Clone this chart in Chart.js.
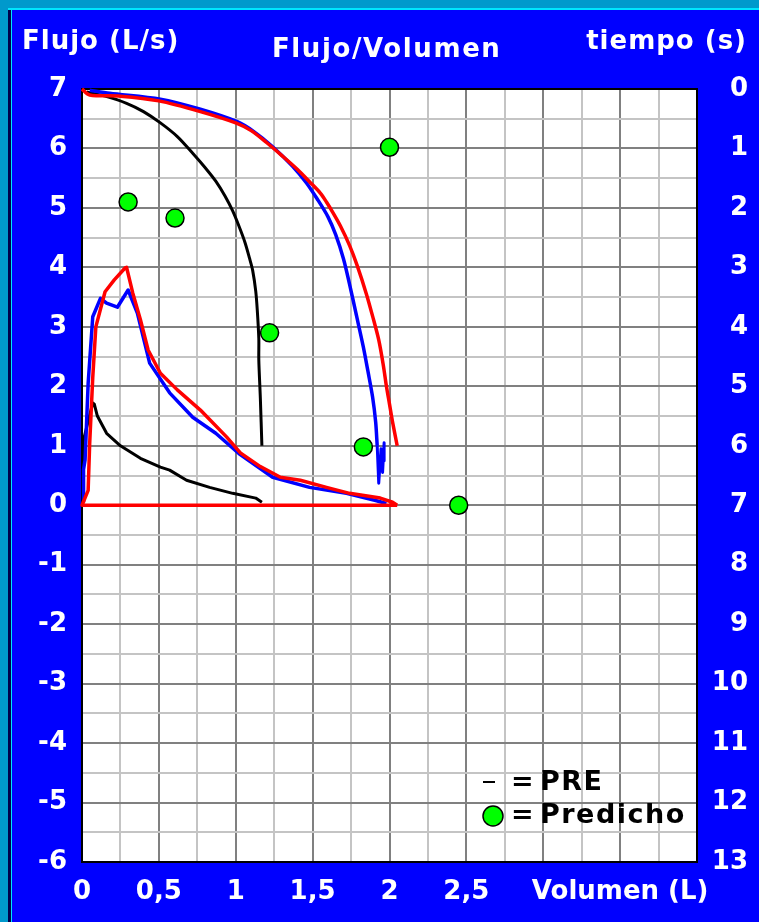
<!DOCTYPE html>
<html>
<head>
<meta charset="utf-8">
<script src="https://cdn.jsdelivr.net/npm/chart.js@4.4.0/dist/chart.umd.min.js"></script>
<style>
  html, body { margin: 0; padding: 0; background: #0099cc; overflow: hidden; }
  #wrap { width: 759px; height: 922px; position: relative; }
</style>
</head>
<body>
<div id="wrap"><canvas id="fv"></canvas></div>
<script>
// valores: volumen (L) y flujo (L/s)
var redExpVol  = [0, 0.05, 0.25, 0.5, 0.77, 1.0, 1.1, 1.2, 1.3, 1.4, 1.48, 1.55, 1.59, 1.63, 1.68, 1.74, 1.79, 1.85, 1.89, 1.93, 1.96, 1.98, 2.0, 2.02, 2.05];
var redExpFlow = [7.0, 6.9, 6.88, 6.8, 6.62, 6.43, 6.3, 6.1, 5.88, 5.65, 5.44, 5.25, 5.1, 4.93, 4.7, 4.37, 4.03, 3.55, 3.18, 2.78, 2.35, 2.0, 1.7, 1.4, 1.0];

var redInspVol  = [2.05, 0, 0.04, 0.05, 0.07, 0.09, 0.15, 0.21, 0.28, 0.29, 0.33, 0.38, 0.43, 0.51, 0.62, 0.77, 0.94, 1.03, 1.16, 1.29, 1.42, 1.59, 1.74, 1.94, 2.02, 2.05];
var redInspFlow = [0, 0, 0.25, 1.04, 2.15, 3.0, 3.59, 3.79, 3.99, 4.0, 3.57, 3.12, 2.61, 2.22, 1.94, 1.6, 1.15, 0.88, 0.65, 0.47, 0.42, 0.3, 0.2, 0.12, 0.05, 0];

var blueExpVol  = [0.05, 0.18, 0.51, 0.77, 1.01, 1.12, 1.24, 1.37, 1.46, 1.53, 1.6, 1.65, 1.7, 1.74, 1.78, 1.83, 1.86, 1.89, 1.91, 1.92];
var blueExpFlow = [6.98, 6.93, 6.83, 6.66, 6.45, 6.28, 6.03, 5.7, 5.42, 5.15, 4.85, 4.55, 4.15, 3.72, 3.25, 2.66, 2.25, 1.82, 1.4, 1.0];
var blueEndVol  = [1.92, 1.93, 1.945, 1.955, 1.965, 1.965];
var blueEndFlow = [1.0, 0.37, 0.95, 0.55, 1.05, 0.75];

var blueInspVol  = [0.01, 0.01, 0.02, 0.04, 0.07, 0.12, 0.16, 0.23, 0.3, 0.36, 0.44, 0.57, 0.72, 0.87, 1.02, 1.24, 1.48, 1.72, 1.91, 1.98];
var blueInspFlow = [0.05, 0.6, 0.76, 2.05, 3.17, 3.48, 3.4, 3.33, 3.62, 3.23, 2.39, 1.89, 1.48, 1.21, 0.87, 0.47, 0.3, 0.2, 0.08, 0.03];

var preExpVol  = [0.03, 0.15, 0.29, 0.4, 0.51, 0.62, 0.72, 0.8, 0.87, 0.93, 0.98, 1.02, 1.06, 1.09, 1.11, 1.13, 1.14, 1.15, 1.15, 1.16, 1.17];
var preExpFlow = [6.95, 6.88, 6.76, 6.62, 6.43, 6.2, 5.92, 5.68, 5.45, 5.2, 4.95, 4.7, 4.42, 4.15, 3.95, 3.6, 3.28, 2.8, 2.44, 1.8, 1.0];

var preInspVol  = [0.005, 0.005, 0.07, 0.08, 0.1, 0.16, 0.25, 0.38, 0.51, 0.57, 0.68, 0.83, 0.98, 1.13, 1.17];
var preInspFlow = [0.45, 1.05, 1.72, 1.7, 1.5, 1.21, 1.0, 0.79, 0.64, 0.59, 0.42, 0.3, 0.2, 0.12, 0.05];

var predVol  = [0.3, 0.605, 2.0, 1.22, 1.83, 2.45];
var predFlow = [5.1, 4.83, 6.02, 2.9, 0.98, 0.0];

// ejes
var xTickValues = [0, 0.5, 1, 1.5, 2, 2.5, 3.5];
var xTickLabels = ['0', '0,5', '1', '1,5', '2', '2,5', 'Volumen (L)'];
var flowTicks = [7, 6, 5, 4, 3, 2, 1, 0, -1, -2, -3, -4, -5, -6];
var timeTicks = [0, 1, 2, 3, 4, 5, 6, 7, 8, 9, 10, 11, 12, 13];

function pts(xs, ys) {
    return xs.map((x, i) => ({x: x, y: ys[i]}));
}

var FONT = '"DejaVu Sans", sans-serif';

var framePlugin = {
    id: 'frame',
    beforeDraw(chart) {
        var c = chart.ctx, a = chart.chartArea, w = chart.width, h = chart.height;
        c.save();
        c.fillStyle = '#0099cc';
        c.fillRect(0, 0, w, h);
        c.fillStyle = '#00004a';
        c.fillRect(8, 8, 3, h);
        c.fillStyle = '#00e5ff';
        c.fillRect(8, 8, w, 2);
        c.fillRect(11, 10, 1, h);
        c.fillStyle = '#0000ff';
        c.fillRect(12, 10, w, h);
        c.fillStyle = '#ffffff';
        c.fillRect(a.left, a.top, a.right - a.left, a.bottom - a.top);

        c.font = 'bold 26px ' + FONT;
        c.textBaseline = 'alphabetic';
        c.textAlign = 'left';
        c.letterSpacing = '1px';
        c.fillText('Flujo (L/s)', 22, 49);
        c.letterSpacing = '1.6px';
        c.fillText('Flujo/Volumen', 272, 57);
        c.letterSpacing = '1px';
        c.textAlign = 'right';
        c.fillText('tiempo (s)', 747, 49);
        c.restore();
    },
    beforeDatasetsDraw(chart) {
        var c = chart.ctx, a = chart.chartArea;
        c.save();
        c.strokeStyle = '#000';
        c.lineWidth = 2;
        c.strokeRect(a.left, a.top, a.right - a.left, a.bottom - a.top);
        c.restore();
    },
    afterDraw(chart) {
        var c = chart.ctx, a = chart.chartArea;
        var lx = a.right - 214;
        c.save();
        c.fillStyle = '#000';
        c.font = 'bold 27px ' + FONT;
        c.textAlign = 'left';
        c.textBaseline = 'alphabetic';
        c.letterSpacing = '1.5px';
        c.fillRect(lx, a.bottom - 81, 12, 2);
        c.fillText('=', lx + 28, a.bottom - 72);
        c.fillText('PRE', lx + 57, a.bottom - 72);
        c.beginPath();
        c.arc(lx + 10, a.bottom - 46, 10, 0, Math.PI * 2);
        c.fillStyle = '#00ff00';
        c.fill();
        c.strokeStyle = '#000';
        c.lineWidth = 1.5;
        c.stroke();
        c.fillStyle = '#000';
        c.fillText('=', lx + 28, a.bottom - 39);
        c.fillText('Predicho', lx + 57, a.bottom - 39);
        c.restore();
    }
};

function lineSet(label, xs, ys, color, width, order, tension) {
    return {
        label: label,
        data: pts(xs, ys),
        showLine: true,
        borderColor: color,
        backgroundColor: color,
        borderWidth: width,
        borderJoinStyle: 'round',
        pointRadius: 0,
        tension: tension || 0,
        fill: false,
        clip: 4,
        order: order
    };
}

var ctx = document.getElementById('fv');
var fvChart = new Chart(ctx, {
    type: 'scatter',
    data: {
        datasets: [
            {
                label: 'Predicho',
                data: pts(predVol, predFlow),
                showLine: false,
                pointRadius: 9,
                pointHoverRadius: 9,
                pointBackgroundColor: '#00ff00',
                pointBorderColor: '#000',
                pointBorderWidth: 1.5,
                clip: false,
                order: 0
            },
            lineSet('Post esp', redExpVol, redExpFlow, '#ff0000', 3.5, 1, 0.3),
            lineSet('Post insp', redInspVol, redInspFlow, '#ff0000', 3.5, 1),
            lineSet('Medido esp', blueExpVol, blueExpFlow, '#0000ff', 3.5, 2, 0.3),
            lineSet('Medido fin', blueEndVol, blueEndFlow, '#0000ff', 3, 2),
            lineSet('Medido insp', blueInspVol, blueInspFlow, '#0000ff', 3.5, 2),
            lineSet('PRE esp', preExpVol, preExpFlow, '#000000', 3, 3, 0.3),
            lineSet('PRE insp', preInspVol, preInspFlow, '#000000', 3, 3)
        ]
    },
    options: {
        responsive: true,
        maintainAspectRatio: false,
        animation: false,
        events: [],
        layout: {
            padding: {top: 89, left: 0, right: 11, bottom: 0}
        },
        plugins: {
            legend: {display: false},
            tooltip: {enabled: false}
        },
        scales: {
            x: {
                type: 'linear',
                position: 'bottom',
                min: 0,
                max: 4,
                afterFit: s => { s.height = 60; },
                grid: {
                    color: c => (c.tick && c.tick.value % 0.5 === 0) ? '#808080' : '#c4c4c4',
                    lineWidth: 2,
                    drawTicks: false
                },
                border: {display: false},
                ticks: {
                    stepSize: 0.25,
                    autoSkip: false,
                    maxRotation: 0,
                    padding: 15,
                    color: '#ffffff',
                    font: {family: FONT, size: 26, weight: 'bold'},
                    callback: v => {
                        var i = xTickValues.indexOf(v);
                        return i >= 0 ? xTickLabels[i] : '';
                    }
                }
            },
            y: {
                type: 'linear',
                position: 'left',
                min: flowTicks[flowTicks.length - 1],
                max: flowTicks[0],
                afterFit: s => { s.width = 82; },
                grid: {
                    color: c => (c.tick && Number.isInteger(c.tick.value)) ? '#808080' : '#c4c4c4',
                    lineWidth: 2,
                    drawTicks: false
                },
                border: {display: false},
                ticks: {
                    stepSize: 0.5,
                    autoSkip: false,
                    padding: 15,
                    color: '#ffffff',
                    font: {family: FONT, size: 26, weight: 'bold'},
                    callback: v => flowTicks.indexOf(v) >= 0 ? String(v) : ''
                }
            },
            y2: {
                type: 'linear',
                position: 'right',
                min: timeTicks[0],
                max: timeTicks[timeTicks.length - 1],
                reverse: true,
                afterFit: s => { s.width = 51; },
                grid: {display: false, drawTicks: false},
                border: {display: false},
                ticks: {
                    stepSize: 1,
                    autoSkip: false,
                    padding: 2,
                    crossAlign: 'far',
                    color: '#ffffff',
                    font: {family: FONT, size: 26, weight: 'bold'},
                    callback: v => timeTicks.indexOf(v) >= 0 ? String(v) : ''
                }
            }
        }
    },
    plugins: [framePlugin]
});
</script>
</body>
</html>
